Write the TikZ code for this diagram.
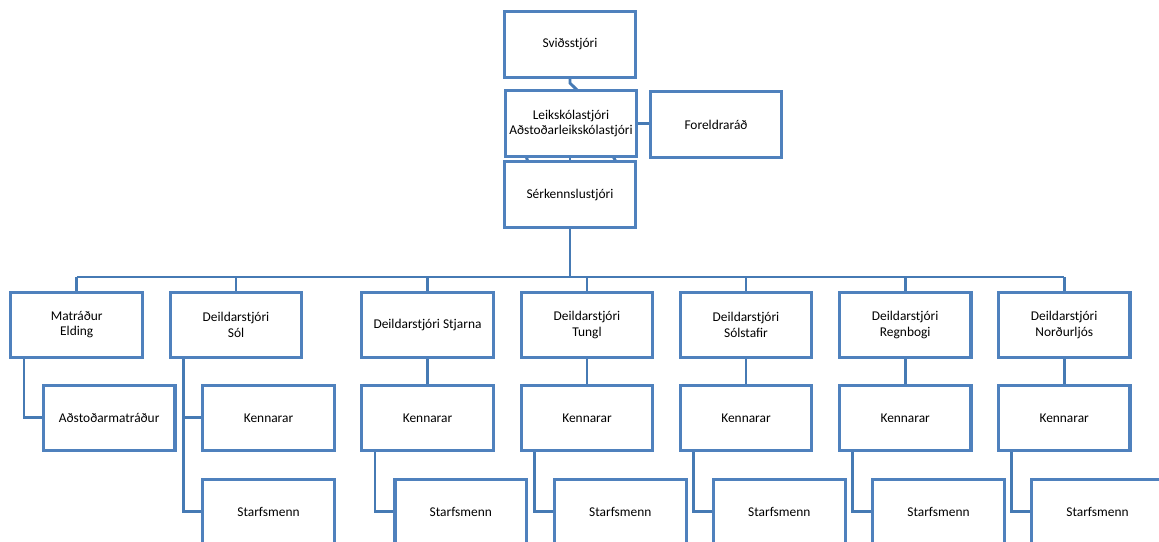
\documentclass[tikz,border=0pt]{standalone}
\usepackage{fontspec}
\setmainfont{Carlito}
\definecolor{boxblue}{RGB}{79,129,189}
\definecolor{lineblue}{RGB}{70,122,180}
\tikzset{
  x=1pt, y=-1pt,
  orgbox/.style={draw=boxblue, line width=3.2pt, fill=white, minimum width=131.7pt, minimum height=65.3pt,
    inner sep=0pt, outer sep=0pt, align=center, font=\fontsize{13.4}{15.5}\selectfont},
  conn/.style={draw=lineblue, line width=2.9pt},
  boxline/.style={draw=boxblue, line width=3.2pt}
}
\begin{document}
\begin{tikzpicture}
\useasboundingbox (0,0) rectangle (1159,541);
\clip (0,0) rectangle (1159,541);
\fill[white] (0,0) rectangle (1159,541);
% top nodes
\node[orgbox] (svid) at (570,44.5) {Sviðsstjóri};
\node[orgbox] (leik) at (571,123.5) {Leikskólastjóri\\Aðstoðarleikskólastjóri};
\node[orgbox] (fore) at (716,124.5) {Foreldraráð};
\node[orgbox] (sk) at (570,194.5) {Sérkennslustjóri};
\coordinate (bus) at (570,277);
% level 1
\node[orgbox] (mat) at (76.7,324.8) {Matráður\\Elding};
\node[orgbox] (sol) at (236,324.8) {Deildarstjóri\\Sól};
\node[orgbox] (stj) at (427.5,324.8) {Deildarstjóri Stjarna};
\node[orgbox] (tun) at (587,324.8) {Deildarstjóri\\Tungl};
\node[orgbox] (sst) at (746,324.8) {Deildarstjóri\\Sólstafir};
\node[orgbox] (reg) at (905.2,324.8) {Deildarstjóri\\Regnbogi};
\node[orgbox] (nor) at (1064.2,324.8) {Deildarstjóri\\Norðurljós};
% level 2
\node[orgbox] (ads) at (109.2,417.8) {Aðstoðarmatráður};
\node[orgbox] (solk) at (268.5,417.8) {Kennarar};
\node[orgbox] (stjk) at (427.5,417.8) {Kennarar};
\node[orgbox] (tunk) at (587,417.8) {Kennarar};
\node[orgbox] (sstk) at (746,417.8) {Kennarar};
\node[orgbox] (regk) at (905.2,417.8) {Kennarar};
\node[orgbox] (nork) at (1064.2,417.8) {Kennarar};
% level 3
\node[orgbox] (sols) at (268.5,511.8) {Starfsmenn};
\node[orgbox] (stjs) at (460.8,511.8) {Starfsmenn};
\node[orgbox] (tuns) at (620.3,511.8) {Starfsmenn};
\node[orgbox] (ssts) at (779.3,511.8) {Starfsmenn};
\node[orgbox] (regs) at (938.5,511.8) {Starfsmenn};
\node[orgbox] (nors) at (1097.5,511.8) {Starfsmenn};
% connectors top
\draw[conn] (svid.south) -- ++(0,6) -- ([xshift=7pt]leik.north);
\draw[conn] ([xshift=-45pt]leik.south) -- ([xshift=-42pt]sk.north);
\draw[conn] ([xshift=-1pt]leik.south) -- (sk.north);
\draw[conn] ([xshift=42pt]leik.south) -- ([xshift=46pt]sk.north);
\draw[conn] (leik.east) -- (leik.east -| fore.west);
\draw[conn] (sk.south) -- (bus);
\draw[conn] (mat.north |- bus) -- (nor.north |- bus);
\foreach \n in {mat,sol,stj,tun,sst,reg,nor}{
  \draw[conn] (\n.north) -- (\n.north |- bus);
}
% level 2 connectors
\draw[conn] ([xshift=-52.7pt]mat.south) |- (ads.west);
\draw[conn] ([xshift=-52.7pt]sol.south) |- (solk.west);
\draw[conn] ([xshift=-52.7pt]sol.south) |- (sols.west);
\foreach \a/\b in {stj/stjk,tun/tunk,sst/sstk,reg/regk,nor/nork}{
  \draw[conn] (\a.south) -- (\b.north);
}
\foreach \a/\b in {stjk/stjs,tunk/tuns,sstk/ssts,regk/regs,nork/nors}{
  \draw[conn] ([xshift=-52.5pt]\a.south) |- (\b.west);
}
% redraw box borders over connector ends
\foreach \n in {svid,leik,fore,sk,mat,sol,stj,tun,sst,reg,nor,ads,solk,stjk,tunk,sstk,regk,nork,sols,stjs,tuns,ssts,regs,nors}{
  \draw[boxline] (\n.north west) rectangle (\n.south east);
}
\end{tikzpicture}
\end{document}
